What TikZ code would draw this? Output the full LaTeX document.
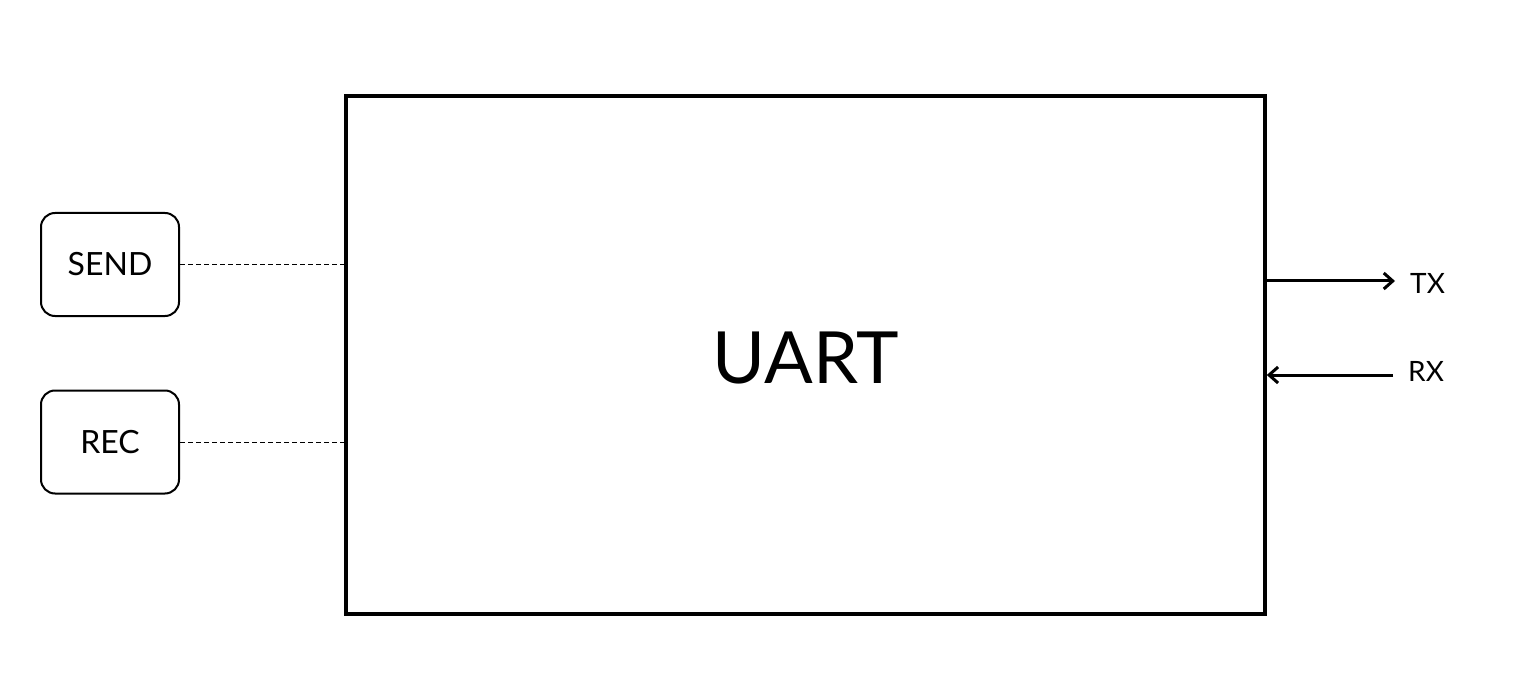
\documentclass[tikz,border=0pt]{standalone}
\usepackage{fontspec}
\setmainfont{Lato}
\usetikzlibrary{arrows.meta}
\begin{document}
\begin{tikzpicture}[x=1pt,y=-1pt,
  mainbox/.style={draw,line width=3.6pt,minimum width=919pt,minimum height=518pt,inner sep=0pt},
  sidebox/.style={draw,line width=2pt,rounded corners=14pt,minimum width=138pt,minimum height=103pt,inner sep=0pt,font=\fontsize{32}{36}\selectfont},
  dashlink/.style={dashed,line width=1pt,dash pattern=on 5pt off 3pt},
  sig/.style={line width=3pt,-{Straight Barb[length=9pt,width=16pt,line width=3pt]}},
  siglabel/.style={anchor=west,inner sep=0pt,font=\fontsize{28}{32}\selectfont}]
\useasboundingbox (0,0) rectangle (1535,695);
\node[mainbox] (uart) at (805.5,355) {};
\node[font=\fontsize{72}{80}\selectfont] (uartlabel) at (806,358) {UART};
\node[sidebox] (send) at (110,264.5) {SEND};
\node[sidebox] (rec) at (110,442) {REC};
\coordinate (sendin) at (uart.west |- send.east);
\coordinate (recin) at (uart.west |- rec.east);
\draw[dashlink] (send.east) -- (sendin);
\draw[dashlink] (rec.east) -- (recin);
\node[siglabel] (tx) at (1410,283) {TX};
\node[siglabel] (rx) at (1408,371) {RX};
\coordinate (txout) at (uart.east |- 0,281);
\coordinate (txend) at (1395,281);
\coordinate (rxstart) at (1393,375);
\coordinate (rxin) at (uart.east |- 0,375);
\draw[sig] (txout) -- (txend);
\draw[sig] (rxstart) -- (rxin);
\end{tikzpicture}
\end{document}
